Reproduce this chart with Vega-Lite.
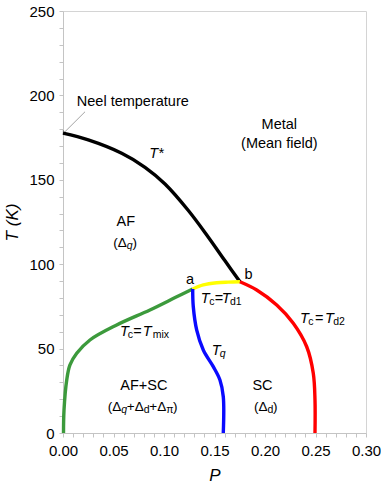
{
  "$schema": "https://vega.github.io/schema/vega-lite/v6.json",
  "width": 303,
  "height": 422,
  "autosize": {"type": "none"},
  "padding": {"left": 63, "top": 11, "right": 15, "bottom": 58},
  "background": "white",
  "config": {
    "font": "Liberation Sans",
    "view": {"stroke": "#d4d4d4", "strokeWidth": 1},
    "axis": {
      "grid": false,
      "domainColor": "#c4c4c4",
      "tickColor": "#c4c4c4",
      "tickSize": 4,
      "labelColor": "#000000",
      "titleColor": "#000000",
      "labelFont": "Liberation Sans",
      "titleFont": "Liberation Sans",
      "labelFontSize": 15,
      "labelOverlap": false,
      "labelFlush": false,
      "titleFontWeight": "normal",
      "titleFontStyle": "italic"
    }
  },
  "datasets": {
    "curves": [
      {"curve": "Tstar", "i": 0, "P": 0.0, "T": 177.6},
      {"curve": "Tstar", "i": 1, "P": 0.025, "T": 173.6},
      {"curve": "Tstar", "i": 2, "P": 0.0581, "T": 165.7},
      {"curve": "Tstar", "i": 3, "P": 0.0812, "T": 157.4},
      {"curve": "Tstar", "i": 4, "P": 0.101, "T": 147.5},
      {"curve": "Tstar", "i": 5, "P": 0.1241, "T": 131.8},
      {"curve": "Tstar", "i": 6, "P": 0.1439, "T": 116.0},
      {"curve": "Tstar", "i": 7, "P": 0.1604, "T": 102.0},
      {"curve": "Tstar", "i": 8, "P": 0.1752, "T": 89.6},
      {"curve": "Tmix", "i": 0, "P": 0.0005, "T": 0},
      {"curve": "Tmix", "i": 1, "P": 0.001, "T": 13.6},
      {"curve": "Tmix", "i": 2, "P": 0.0037, "T": 31.4},
      {"curve": "Tmix", "i": 3, "P": 0.0069, "T": 40.3},
      {"curve": "Tmix", "i": 4, "P": 0.0136, "T": 47.2},
      {"curve": "Tmix", "i": 5, "P": 0.0267, "T": 55.1},
      {"curve": "Tmix", "i": 6, "P": 0.0532, "T": 64.0},
      {"curve": "Tmix", "i": 7, "P": 0.0861, "T": 72.9},
      {"curve": "Tmix", "i": 8, "P": 0.1126, "T": 80.7},
      {"curve": "Tmix", "i": 9, "P": 0.1284, "T": 85.3},
      {"curve": "Td1", "i": 0, "P": 0.1284, "T": 85.3},
      {"curve": "Td1", "i": 1, "P": 0.1389, "T": 87.7},
      {"curve": "Td1", "i": 2, "P": 0.1522, "T": 89.0},
      {"curve": "Td1", "i": 3, "P": 0.1634, "T": 89.4},
      {"curve": "Td1", "i": 4, "P": 0.1752, "T": 89.6},
      {"curve": "Tq", "i": 0, "P": 0.1284, "T": 85.3},
      {"curve": "Tq", "i": 1, "P": 0.129, "T": 74.8},
      {"curve": "Tq", "i": 2, "P": 0.1324, "T": 61.0},
      {"curve": "Tq", "i": 3, "P": 0.1389, "T": 49.2},
      {"curve": "Tq", "i": 4, "P": 0.1488, "T": 39.3},
      {"curve": "Tq", "i": 5, "P": 0.1554, "T": 31.4},
      {"curve": "Tq", "i": 6, "P": 0.1587, "T": 21.5},
      {"curve": "Tq", "i": 7, "P": 0.1587, "T": 0},
      {"curve": "Td2", "i": 0, "P": 0.1752, "T": 89.6},
      {"curve": "Td2", "i": 1, "P": 0.1918, "T": 84.7},
      {"curve": "Td2", "i": 2, "P": 0.2116, "T": 75.8},
      {"curve": "Td2", "i": 3, "P": 0.228, "T": 65.0},
      {"curve": "Td2", "i": 4, "P": 0.2413, "T": 51.1},
      {"curve": "Td2", "i": 5, "P": 0.2478, "T": 35.4},
      {"curve": "Td2", "i": 6, "P": 0.2495, "T": 19.5},
      {"curve": "Td2", "i": 7, "P": 0.2495, "T": 0}
    ],
    "arrow": [
      {"P": 0.0003, "T": 177.5, "P2": 0.0218, "T2": 190.3}
    ],
    "labels": [
      {"s": "Neel temperature", "P": 0.0691, "T": 193.7},
      {"s": "Metal", "P": 0.2142, "T": 179.9},
      {"s": "(Mean field)", "P": 0.2142, "T": 168.7},
      {"s": "AF", "P": 0.0622, "T": 122.6},
      {"s": "a", "P": 0.1257, "T": 88.3},
      {"s": "b", "P": 0.1837, "T": 91.2},
      {"s": "AF+SC", "P": 0.08, "T": 25.5},
      {"s": "SC", "P": 0.1975, "T": 25.5}
    ],
    "italicT": [
      {"s": "T*", "P": 0.0854, "T": 162.7},
      {"s": "T", "P": 0.1363, "T": 76.8},
      {"s": "T", "P": 0.1571, "T": 76.8},
      {"s": "T", "P": 0.0564, "T": 57.6},
      {"s": "T", "P": 0.0789, "T": 57.6},
      {"s": "T", "P": 0.2347, "T": 65.0},
      {"s": "T", "P": 0.2594, "T": 65.0},
      {"s": "T", "P": 0.1472, "T": 46.2}
    ],
    "equals": [
      {"s": "=", "P": 0.1502, "T": 76.8},
      {"s": "=", "P": 0.0696, "T": 57.6},
      {"s": "=", "P": 0.2495, "T": 65.0}
    ],
    "subs": [
      {"s": "c", "P": 0.1449, "T": 76.8},
      {"s": "d1", "P": 0.1653, "T": 76.8},
      {"s": "c", "P": 0.0641, "T": 57.6},
      {"s": "mix", "P": 0.0888, "T": 57.6},
      {"s": "c", "P": 0.2429, "T": 65.0},
      {"s": "d2", "P": 0.2676, "T": 65.0},
      {"s": "d", "P": 0.2025, "T": 13.0},
      {"s": "d", "P": 0.0799, "T": 13.0},
      {"s": "π", "P": 0.1022, "T": 13.0}
    ],
    "subsItalic": [
      {"s": "q", "P": 0.1552, "T": 46.2},
      {"s": "q", "P": 0.0632, "T": 110.4},
      {"s": "q", "P": 0.0576, "T": 13.0}
    ],
    "deltas": [
      {"s": "(Δ", "P": 0.0498, "T": 110.4},
      {"s": ")", "P": 0.0687, "T": 110.4},
      {"s": "(Δ", "P": 0.1891, "T": 13.0},
      {"s": ")", "P": 0.208, "T": 13.0},
      {"s": "(Δ", "P": 0.0443, "T": 13.0},
      {"s": "+Δ", "P": 0.0632, "T": 13.0},
      {"s": "+Δ", "P": 0.0854, "T": 13.0},
      {"s": ")", "P": 0.1089, "T": 13.0}
    ]
  },
  "encoding": {
    "x": {
      "field": "P",
      "type": "quantitative",
      "scale": {"domain": [0, 0.3], "nice": false, "zero": false},
      "axis": {
        "title": "P",
        "titleFontSize": 17,
        "titlePadding": 9,
        "labelPadding": 6,
        "values": [0, 0.01, 0.02, 0.03, 0.04, 0.05, 0.06, 0.07, 0.08, 0.09, 0.1, 0.11, 0.12, 0.13, 0.14, 0.15, 0.16, 0.17, 0.18, 0.19, 0.2, 0.21, 0.22, 0.23, 0.24, 0.25, 0.26, 0.27, 0.28, 0.29, 0.3],
        "labelExpr": "abs(datum.value * 20 - round(datum.value * 20)) < 0.000001 ? format(datum.value, '.2f') : ''"
      }
    },
    "y": {
      "field": "T",
      "type": "quantitative",
      "scale": {"domain": [0, 250], "nice": false, "zero": false},
      "axis": {
        "title": "T (K)",
        "titleFontSize": 17,
        "titlePadding": 7,
        "labelPadding": 5,
        "values": [0, 10, 20, 30, 40, 50, 60, 70, 80, 90, 100, 110, 120, 130, 140, 150, 160, 170, 180, 190, 200, 210, 220, 230, 240, 250],
        "labelExpr": "datum.value % 50 === 0 ? format(datum.value, 'd') : ''"
      }
    }
  },
  "layer": [
    {
      "data": {"name": "arrow"},
      "mark": {"type": "rule", "color": "#8c8c8c", "strokeWidth": 0.8},
      "encoding": {
        "x2": {"field": "P2"},
        "y2": {"field": "T2"}
      }
    },
    {
      "data": {"name": "arrow"},
      "mark": {"type": "point", "shape": "M-0.9,0.9L0,0L0.9,0.9", "filled": false, "stroke": "#666666", "strokeWidth": 1, "size": 30, "angle": 225}
    },
    {
      "data": {"name": "curves"},
      "mark": {"type": "line", "strokeWidth": 3.4, "interpolate": "catmull-rom", "strokeJoin": "round"},
      "encoding": {
        "color": {
          "field": "curve",
          "type": "nominal",
          "scale": {"domain": ["Tstar", "Tmix", "Td1", "Tq", "Td2"], "range": ["#000000", "#3c9a3c", "#ffff00", "#0a0aff", "#ff0000"]},
          "legend": null
        },
        "order": {"field": "i", "type": "quantitative"}
      }
    },
    {
      "data": {"name": "labels"},
      "mark": {"type": "text", "align": "center", "baseline": "alphabetic", "fontSize": 14.5, "color": "#000000"},
      "encoding": {"text": {"field": "s"}}
    },
    {
      "data": {"name": "italicT"},
      "mark": {"type": "text", "align": "left", "baseline": "alphabetic", "fontSize": 14.5, "fontStyle": "italic", "color": "#000000"},
      "encoding": {"text": {"field": "s"}}
    },
    {
      "data": {"name": "equals"},
      "mark": {"type": "text", "align": "left", "baseline": "alphabetic", "fontSize": 14.5, "color": "#000000"},
      "encoding": {"text": {"field": "s"}}
    },
    {
      "data": {"name": "subs"},
      "mark": {"type": "text", "align": "left", "baseline": "alphabetic", "fontSize": 10.5, "dy": 2, "color": "#000000"},
      "encoding": {"text": {"field": "s"}}
    },
    {
      "data": {"name": "subsItalic"},
      "mark": {"type": "text", "align": "left", "baseline": "alphabetic", "fontSize": 10.5, "fontStyle": "italic", "dy": 2, "color": "#000000"},
      "encoding": {"text": {"field": "s"}}
    },
    {
      "data": {"name": "deltas"},
      "mark": {"type": "text", "align": "left", "baseline": "alphabetic", "fontSize": 13.5, "color": "#000000"},
      "encoding": {"text": {"field": "s"}}
    }
  ]
}
